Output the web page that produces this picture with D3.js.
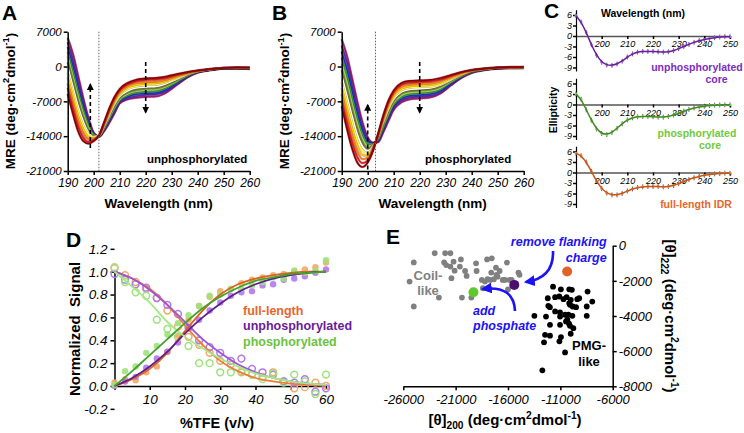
<!DOCTYPE html>
<html><head><meta charset="utf-8">
<script src="https://cdn.jsdelivr.net/npm/d3@7"></script>
<style>body{margin:0;background:#fff}svg{display:block}</style>
</head><body>
<svg id="c" width="744" height="433"></svg>
<script>
// ---------------- DATA ----------------
// Panels A/B: MRE spectra at increasing %TFE (columns = curves, rows = wavelengths)
const wlAB = [190,192,194,196,198,200,202,204,206,208,210,213,216,220,224,228,232,236,240,245,250,255,260];
const mreA = [
 [-5500,-4300,-3400,-2200,-1200,-100,900,2000,3000,3900,4900,5800],
 [-9500,-8400,-7300,-6200,-5200,-4100,-3000,-2000,-900,200,1400,2600],
 [-13000,-12000,-11000,-10000,-9000,-8000,-7000,-6000,-5000,-3900,-2900,-1800],
 [-15000,-14300,-13500,-12700,-11900,-11100,-10300,-9500,-8700,-7900,-7100,-6300],
 [-15500,-15100,-14600,-14200,-13700,-13300,-12800,-12300,-11800,-11300,-10800,-10300],
 [-15000,-14800,-14600,-14500,-14300,-14100,-13900,-13800,-13700,-13600,-13400,-13300],
 [-13900,-13900,-13900,-14000,-14000,-14000,-14000,-14000,-14000,-14100,-14100,-14100],
 [-11200,-11400,-11500,-11700,-11900,-12100,-12200,-12400,-12500,-12700,-12800,-13000],
 [-8400,-8700,-9000,-9200,-9500,-9800,-10000,-10300,-10500,-10800,-11000,-11300],
 [-6100,-6400,-6700,-7000,-7300,-7600,-7900,-8200,-8500,-8800,-9100,-9400],
 [-4500,-4800,-5100,-5400,-5700,-6000,-6300,-6600,-6800,-7000,-7200,-7400],
 [-3300,-3600,-3900,-4200,-4500,-4900,-5200,-5500,-5800,-6100,-6400,-6600],
 [-2700,-3000,-3300,-3700,-4000,-4300,-4700,-5000,-5300,-5600,-6000,-6300],
 [-2400,-2700,-3100,-3400,-3700,-4100,-4400,-4700,-5100,-5400,-5700,-6100],
 [-2300,-2600,-3000,-3300,-3600,-4000,-4300,-4600,-5000,-5300,-5600,-6000],
 [-2000,-2300,-2600,-2900,-3100,-3400,-3700,-4000,-4300,-4600,-4900,-5200],
 [-1500,-1700,-1900,-2100,-2300,-2500,-2700,-2900,-3100,-3300,-3500,-3700],
 [-1100,-1200,-1300,-1400,-1500,-1600,-1700,-1800,-1900,-2000,-2100,-2200],
 [-800,-800,-900,-900,-1000,-1000,-1000,-1000,-1100,-1100,-1200,-1200],
 [-500,-500,-500,-600,-600,-600,-600,-600,-600,-700,-700,-700],
 [-300,-300,-300,-300,-300,-300,-400,-400,-400,-400,-400,-400],
 [-200,-200,-200,-300,-300,-300,-300,-300,-300,-300,-400,-400],
 [-200,-200,-300,-300,-300,-300,-400,-400,-400,-400,-500,-500]
];
const mreB = [
 [-8000,-6800,-5500,-4300,-3100,-1900,-700,500,1800,3000,4200,5500],
 [-12500,-11200,-9900,-8500,-7200,-5900,-4500,-3200,-1800,-500,900,2200],
 [-16500,-15200,-13900,-12600,-11300,-10000,-8800,-7500,-6200,-4900,-3600,-2300],
 [-19300,-18200,-17100,-16000,-14800,-13700,-12600,-11500,-10400,-9300,-8100,-7000],
 [-20200,-19400,-18600,-17800,-16900,-16100,-15300,-14500,-13700,-12800,-12000,-11200],
 [-19300,-18900,-18400,-18000,-17500,-17000,-16500,-16000,-15500,-15100,-14600,-14200],
 [-17000,-16800,-16600,-16400,-16200,-16000,-15900,-15700,-15600,-15500,-15400,-15300],
 [-13500,-13700,-13800,-14000,-14100,-14300,-14400,-14600,-14700,-14900,-15000,-15200],
 [-9800,-10100,-10400,-10700,-11000,-11300,-11600,-11900,-12300,-12600,-12900,-13200],
 [-6800,-7200,-7500,-7900,-8300,-8600,-9000,-9400,-9700,-10100,-10500,-10900],
 [-4800,-5150,-5500,-5900,-6250,-6600,-6900,-7300,-7650,-8000,-8350,-8700],
 [-3300,-3650,-4000,-4400,-4750,-5100,-5400,-5800,-6150,-6500,-6850,-7200],
 [-2900,-3250,-3600,-3950,-4250,-4600,-4900,-5250,-5600,-5900,-6250,-6600],
 [-2800,-3100,-3450,-3800,-4100,-4450,-4750,-5100,-5400,-5750,-6050,-6400],
 [-2700,-3000,-3350,-3700,-4000,-4300,-4600,-4900,-5250,-5550,-5900,-6200],
 [-2300,-2600,-2900,-3200,-3500,-3700,-4000,-4300,-4600,-4900,-5200,-5400],
 [-1700,-1900,-2100,-2300,-2500,-2700,-2800,-3000,-3200,-3400,-3600,-3800],
 [-1100,-1200,-1300,-1500,-1600,-1700,-1800,-1900,-2000,-2100,-2200,-2300],
 [-700,-700,-800,-800,-900,-900,-1000,-1000,-1100,-1100,-1200,-1300],
 [-400,-400,-400,-500,-500,-500,-500,-600,-600,-600,-700,-700],
 [-200,-200,-200,-300,-300,-300,-300,-300,-300,-400,-400,-400],
 [-100,-100,-200,-200,-200,-200,-200,-300,-300,-300,-300,-300],
 [-100,-100,-100,-200,-200,-200,-200,-200,-300,-300,-300,-300]
];
const mreTicks = [7000,0,-7000,-14000,-21000];
const wlTicksAB = [190,200,210,220,230,240,250,260];

// Panel C: ellipticity spectra
const wlC = [190,192,194,196,198,200,202,204,206,208,210,212,214,216,218,220,222,224,226,228,230,232,234,236,238,240,242,244,246,248,250];
const ellUnphos = [5.8,4.0,1.0,-2.5,-5.5,-7.5,-8.3,-8.4,-8.0,-7.2,-6.0,-5.1,-4.6,-4.4,-4.4,-4.4,-4.5,-4.6,-4.5,-4.2,-3.6,-3.0,-2.4,-1.8,-1.3,-1.0,-0.7,-0.5,-0.3,-0.2,-0.2];
const ellPhos = [3.0,1.5,-1.5,-4.5,-7.0,-8.3,-8.6,-8.0,-6.8,-5.5,-4.4,-3.8,-3.5,-3.4,-3.4,-3.5,-3.6,-3.6,-3.4,-3.0,-2.5,-1.9,-1.4,-1.0,-0.7,-0.5,-0.3,-0.2,-0.1,-0.1,-0.1];
const ellFull = [5.5,4.8,3.0,0.3,-2.5,-4.6,-5.9,-6.4,-6.4,-6.0,-5.3,-4.7,-4.3,-4.1,-4.0,-4.0,-4.0,-4.1,-4.0,-3.7,-3.2,-2.6,-2.0,-1.5,-1.1,-0.8,-0.6,-0.4,-0.3,-0.2,-0.2];
const ellErr = 0.7;
const ellTicks = [6,3,0,-3,-6,-9];
const wlTicksC = [200,210,220,230,240,250];

// Panel D: normalized signal vs %TFE
const tfe = [0,3,6,9,12,15,18,21,24,27,30,33,36,39,42,45,48,51,54,57,60];
const helixFull   = [0.03,0.06,0.05,0.12,0.17,0.30,0.44,0.58,0.70,0.78,0.83,0.85,0.90,0.93,0.95,0.97,0.98,1.00,1.02,1.04,1.08];
const helixUnphos = [0.00,0.04,0.08,0.16,0.24,0.30,0.38,0.51,0.58,0.66,0.73,0.79,0.82,0.83,0.88,0.89,0.93,0.94,0.96,0.99,1.02];
const helixPhos   = [0.01,0.13,0.17,0.29,0.35,0.45,0.55,0.62,0.70,0.79,0.80,0.85,0.85,0.88,0.91,0.95,0.94,1.01,0.99,1.01,1.10];
const coilFull    = [1.03,0.97,0.91,0.85,0.77,0.66,0.52,0.43,0.36,0.29,0.22,0.19,0.12,0.10,0.08,0.12,0.04,-0.02,-0.01,0.03,0.00];
const coilUnphos  = [0.98,0.93,0.89,0.86,0.77,0.71,0.63,0.51,0.40,0.34,0.29,0.22,0.24,0.15,0.12,0.10,0.04,0.03,0.06,-0.05,-0.02];
const coilPhos    = [1.04,0.91,0.82,0.79,0.58,0.50,0.43,0.35,0.20,0.20,0.12,0.12,0.13,0.10,0.06,0.11,0.03,0.10,0.04,-0.07,0.10];
const fitX = [0,5,10,15,20,25,30,35,40,45,50,55,60];
const fitHelixFull   = [0,0.06,0.15,0.29,0.48,0.66,0.80,0.89,0.94,0.97,0.99,1.0,1.0];
const fitHelixUnphos = [0,0.07,0.17,0.30,0.46,0.60,0.72,0.82,0.89,0.94,0.97,0.99,1.0];
const fitHelixPhos   = [0,0.13,0.27,0.41,0.55,0.68,0.78,0.86,0.92,0.95,0.98,0.99,1.0];
const fitCoilFull    = [1.0,0.94,0.85,0.71,0.53,0.36,0.22,0.13,0.07,0.04,0.02,0.01,0.0];
const fitCoilUnphos  = [1.0,0.94,0.84,0.71,0.56,0.41,0.29,0.19,0.12,0.07,0.04,0.02,0.01];
const fitCoilPhos    = [1.0,0.87,0.73,0.56,0.43,0.33,0.24,0.17,0.11,0.07,0.04,0.02,0.01];
const signalTicks = [-0.2,0.0,0.2,0.4,0.6,0.8,1.0,1.2];
const tfeTicks = [0,10,20,30,40,50,60];
const legendD = ["full-length","unphosphorylated","phosphorylated"];

// Panel E: [θ]200 vs [θ]222
const coilLike = [[-25000,-950],[-23000,-430],[-22000,-430],[-21500,-430],[-20500,-780],[-25400,-2040],[-25000,-3460],
 [-22600,-2950],[-22100,-950],[-21900,-1100],[-21500,-1190],[-21200,-910],[-21100,-1420],[-21400,-1850],[-20600,-1190],
 [-20100,-1440],[-19950,-1720],[-19500,-2950],[-20400,-2950],[-19050,-1000],[-19000,-1440],[-18000,-780],[-17550,-720],
 [-17150,-1250],[-16800,-1440],[-17600,-1530],[-17100,-1660],[-16100,-960],[-15000,-1530],[-14900,-1660],[-18500,-1950],
 [-18200,-2040],[-17950,-1910],[-17700,-1950],[-17350,-1910],[-17000,-1760],[-16500,-1950],[-16300,-1950],[-15850,-1950],
 [-15650,-1950],[-16000,-2480],[-18400,-2420],[-17900,-2420]];
const pmgLike = [[-11700,-2330],[-10950,-2480],[-10150,-2480],[-9900,-2510],[-8400,-2610],[-12200,-2990],[-11500,-2930],
 [-11100,-2890],[-10700,-3040],[-10400,-2930],[-10000,-3080],[-9380,-3040],[-9200,-2990],[-7950,-3180],[-10150,-3270],
 [-12150,-3420],[-12000,-3500],[-10080,-3360],[-9820,-3460],[-9500,-3500],[-8480,-3460],[-11500,-3740],[-11030,-3800],
 [-10550,-3930],[-10230,-3930],[-9850,-3990],[-10330,-4210],[-13480,-3990],[-12370,-4030],[-11030,-4030],[-10460,-4310],
 [-10170,-4440],[-11990,-4500],[-11030,-4500],[-10080,-4560],[-9760,-4690],[-10010,-5010],[-12460,-5070],[-11990,-5120],
 [-10940,-5200],[-11090,-5440],[-12560,-5500],[-10550,-6070],[-12720,-7090],[-8480,-3990]];
const fullLengthPt = [-10350,-1470];
const unphosPt = [-15400,-2230];
const phosPt = [-19300,-2650];
const theta200Ticks = [-26000,-21000,-16000,-11000,-6000];
const theta222Ticks = [0,-2000,-4000,-6000,-8000];

// ---------------- STYLE ----------------
const FONT = '"Liberation Sans", Arial, Helvetica, sans-serif';
const tfeColors = ["#8b0000","#e31a1c","#f57c1f","#ffc20e","#ffff40","#ffffff","#6b7a2a","#9bd14f","#2e9b3a","#1f2bd6","#5b2a9a","#a3197a"];
const svg = d3.select("#c");
const defs = svg.append("defs");
function mk(id, color, size){
  defs.append("marker").attr("id",id).attr("viewBox","0 0 10 10").attr("refX",8).attr("refY",5)
    .attr("markerWidth",size).attr("markerHeight",size).attr("markerUnits","userSpaceOnUse").attr("orient","auto")
    .append("path").attr("d","M0,0L10,5L0,10z").attr("fill",color);
}
mk("arrK","#000",7); mk("arrB","#1c12f5",11);

function txt(g,x,y,s,o={}){
  const t = g.append("text").attr("x",x).attr("y",y).text(s)
   .attr("font-family",FONT).attr("font-size",o.fs||12).attr("font-weight",o.w||"bold")
   .attr("fill",o.fill||"#000").attr("text-anchor",o.anchor||"start");
  if(o.it) t.attr("font-style","italic");
  return t;
}
function rich(g,x,y,parts,fs,o={}){
  const t = g.append("text").attr("x",x).attr("y",y).attr("font-family",FONT).attr("font-size",fs)
    .attr("font-weight","bold").attr("text-anchor",o.anchor||"middle").attr("fill","#000");
  if(o.tr) t.attr("transform",o.tr);
  let cur=0;
  parts.forEach(p=>{
    const off = p.sup ? -0.38*fs : p.sub ? 0.25*fs : 0;
    const ts = t.append("tspan").attr("dy",off-cur).text(p.t);
    if(p.sup||p.sub) ts.attr("font-size",fs*0.68);
    cur=off;
  });
  return t;
}
function styleAxis(a,fs){
  a.select(".domain").attr("stroke","#000").attr("stroke-width",1.5);
  a.selectAll(".tick line").attr("stroke","#000").attr("stroke-width",1.5);
  a.selectAll(".tick text").attr("font-family",FONT).attr("font-size",fs).attr("font-style","italic").attr("fill","#000");
}
const unitParts = (pre)=>[{t:pre+"(deg·cm"},{t:"2",sup:true},{t:"dmol"},{t:"-1",sup:true},{t:")"}];

// ---------------- PANELS A & B ----------------
function spectra(c){
  const x = d3.scaleLinear().domain([190,260]).range([c.x0,c.x0+182]);
  const y = d3.scaleLinear().domain([-21000,7000]).range([171,31.7]);
  const g = svg.append("g");
  const line = d3.line().x(d=>x(d[0])).y(d=>y(d[1])).curve(d3.curveMonotoneX);
  const curves = tfeColors.map((col,i)=>({col, pts: wlAB.map((w,j)=>[w,c.rows[j][i]])}));
  curves.slice().reverse().forEach(cv=>{
    g.append("path").attr("d",line(cv.pts)).attr("fill","none").attr("stroke","#3a0a20").attr("stroke-opacity",0.3).attr("stroke-width",2.6);
    g.append("path").attr("d",line(cv.pts)).attr("fill","none").attr("stroke",cv.col).attr("stroke-width",1.7);
  });
  g.append("line").attr("x1",x(c.dot)).attr("x2",x(c.dot)).attr("y1",y(7000)).attr("y2",y(-21000))
    .attr("stroke","#666").attr("stroke-width",1).attr("stroke-dasharray","1.5,1.5");
  [[c.upNm,c.upFrom,c.upTo],[220,900,-9200]].forEach(a=>{
    g.append("line").attr("x1",x(a[0])).attr("x2",x(a[0])).attr("y1",y(a[1])).attr("y2",y(a[2]))
     .attr("stroke","#000").attr("stroke-width",1.6).attr("stroke-dasharray","4,3").attr("marker-end","url(#arrK)");
  });
  const ay = g.append("g").attr("transform",`translate(${c.x0},0)`)
    .call(d3.axisLeft(y).tickValues(mreTicks).tickFormat(d=>String(d)).tickSize(4).tickPadding(2).tickSizeOuter(0));
  styleAxis(ay,11.5);
  const ax = g.append("g").attr("transform","translate(0,171)")
    .call(d3.axisBottom(x).tickValues(wlTicksAB).tickFormat(d=>String(d)).tickSize(4).tickPadding(3).tickSizeOuter(0));
  styleAxis(ax,12);
  txt(g,c.lx,162.5,c.label,{fs:11.5});
  txt(g,(c.x0+c.x0+182)/2,208,"Wavelength (nm)",{fs:13.5,anchor:"middle"});
  rich(g,0,0,unitParts("MRE "),13.5,{tr:`translate(${c.tx},101) rotate(-90)`});
  txt(g,c.letX,20,c.letter,{fs:21});
}
spectra({x0:67.7,rows:mreA,dot:202,upNm:198.7,upFrom:-16400,upTo:-3600,label:"unphosphorylated",lx:147,tx:14.5,letter:"A",letX:2});
spectra({x0:341.7,rows:mreB,dot:203,upNm:200,upFrom:-20700,upTo:-7750,label:"phosphorylated",lx:425,tx:289,letter:"B",letX:272});

// ---------------- PANEL C ----------------
const xC = d3.scaleLinear().domain([190,250]).range([576,730]);
const cPanels = [
  {vals:ellUnphos, zero:36,  line:"#6a1f9e", mark:"#b36ee6", lab:"#7b2cbf", t1:["unphosphorylated",697,70.5], t2:["core",716.5,83]},
  {vals:ellPhos,   zero:104.5,line:"#3f8a24", mark:"#8ed95b", lab:"#72c93c", t1:["phosphorylated",697,136.5], t2:["core",710,149]},
  {vals:ellFull,   zero:172.5,line:"#c8561c", mark:"#f08a3c", lab:"#e8662a", t1:["full-length IDR",696,208], t2:null}
];
cPanels.forEach(p=>{
  const y = d3.scaleLinear().domain([-10,7.5]).range([p.zero+35,p.zero-26.25]);
  const g = svg.append("g");
  const pts = wlC.map((w,i)=>[w,p.vals[i]]);
  pts.forEach(d=>{
    g.append("line").attr("x1",xC(d[0])).attr("x2",xC(d[0])).attr("y1",y(d[1]-ellErr)).attr("y2",y(d[1]+ellErr))
     .attr("stroke","#333").attr("stroke-width",0.8);
  });
  const ax = g.append("g").attr("transform",`translate(0,${p.zero})`)
    .call(d3.axisBottom(xC).tickValues(wlTicksC).tickFormat(d=>String(d)).tickSize(3).tickPadding(2).tickSizeOuter(0));
  styleAxis(ax,9);
  ax.select(".domain").attr("stroke","#555");
  const ay = g.append("g").attr("transform","translate(576,0)")
    .call(d3.axisLeft(y).tickValues(ellTicks).tickFormat(d=>String(d)).tickSize(3).tickPadding(1).tickSizeOuter(0));
  styleAxis(ay,9);
  ay.select(".domain").attr("stroke-width",1.2);
  g.selectAll("circle.m").data(pts).join("circle").attr("cx",d=>xC(d[0])).attr("cy",d=>y(d[1])).attr("r",1.4).attr("fill",p.mark);
  g.append("path").attr("d",d3.line().x(d=>xC(d[0])).y(d=>y(d[1])).curve(d3.curveBasis)(pts))
   .attr("fill","none").attr("stroke",p.line).attr("stroke-width",1.5);
  txt(g,p.t1[1],p.t1[2],p.t1[0],{fs:10.5,fill:p.lab,anchor:"middle"});
  if(p.t2) txt(g,p.t2[1],p.t2[2],p.t2[0],{fs:10.5,fill:p.lab,anchor:"middle"});
});
txt(svg,643,17,"Wavelength (nm)",{fs:10.5,anchor:"middle"});
txt(svg,0,0,"Ellipticity",{fs:10.5,anchor:"middle"}).attr("transform","translate(557,110) rotate(-90)");
txt(svg,544,18,"C",{fs:21});

// ---------------- PANEL D ----------------
{
  const x = d3.scaleLinear().domain([0,60]).range([114.5,326]);
  const y = d3.scaleLinear().domain([0,1]).range([386,271.7]);
  const g = svg.append("g");
  const ay = g.append("g").attr("transform","translate(114.5,0)")
    .call(d3.axisLeft(y).tickValues(signalTicks).tickFormat(d=>d.toFixed(1)).tickSize(4).tickPadding(3).tickSizeOuter(0));
  styleAxis(ay,13.5);
  const ax = g.append("g").attr("transform",`translate(0,${y(0)})`)
    .call(d3.axisBottom(x).tickValues(tfeTicks).tickFormat(d=>d===0?"":String(d)).tickSize(4).tickPadding(4).tickSizeOuter(0));
  styleAxis(ax,13.5);
  const series = [
    {h:helixFull,c:coilFull,fh:fitHelixFull,fc:fitCoilFull,lh:"#e0601c",lc:"#ee7a34",pt:"#f2a866",lab:"#e8662a"},
    {h:helixUnphos,c:coilUnphos,fh:fitHelixUnphos,fc:fitCoilUnphos,lh:"#5b1f8f",lc:"#9b55d8",pt:"#b278ee",lab:"#6a1b9a"},
    {h:helixPhos,c:coilPhos,fh:fitHelixPhos,fc:fitCoilPhos,lh:"#44a22c",lc:"#a4e88a",pt:"#9ee27c",lab:"#6cc23e"}
  ];
  series.forEach(s=>{
    tfe.forEach((t,i)=>{
      g.append("circle").attr("cx",x(t)).attr("cy",y(s.h[i])).attr("r",3.2).attr("fill",s.pt).attr("fill-opacity",0.9);
      g.append("circle").attr("cx",x(t)).attr("cy",y(s.c[i])).attr("r",3.4).attr("fill","none").attr("stroke",s.pt).attr("stroke-width",1.5);
    });
  });
  const ln = d3.line().x((d,i)=>x(fitX[i])).y(d=>y(d)).curve(d3.curveMonotoneX);
  series.forEach(s=>{
    g.append("path").attr("d",ln(s.fc)).attr("fill","none").attr("stroke",s.lc).attr("stroke-width",1.8);
    g.append("path").attr("d",ln(s.fh)).attr("fill","none").attr("stroke",s.lh).attr("stroke-width",1.8);
  });
  legendD.forEach((l,i)=>txt(g,243,314.5+i*15.8,l,{fs:12.5,fill:series[i].lab}));
  txt(g,0,0,"Normalized\u00A0 Signal",{fs:15,anchor:"middle"}).attr("transform","translate(80,329) rotate(-90)");
  txt(g,217,428,"%TFE (v/v)",{fs:14.5,anchor:"middle"});
  txt(g,66,247,"D",{fs:21});
}

// ---------------- PANEL E ----------------
{
  const x = d3.scaleLinear().domain([-26000,-6000]).range([403.3,612.7]);
  const y = d3.scaleLinear().domain([-8000,0]).range([386.3,245.7]);
  const g = svg.append("g");
  const ax = g.append("g").attr("transform","translate(0,386.3)")
    .call(d3.axisBottom(x).tickValues(theta200Ticks).tickFormat(d=>String(d)).tickSize(4).tickPadding(4).tickSizeOuter(0));
  styleAxis(ax,13);
  const ay = g.append("g").attr("transform","translate(612.7,0)")
    .call(d3.axisRight(y).tickValues(theta222Ticks).tickFormat(d=>String(d)).tickSize(4).tickPadding(2).tickSizeOuter(0));
  styleAxis(ay,13);
  g.selectAll("circle.coil").data(coilLike).join("circle").attr("cx",d=>x(d[0])).attr("cy",d=>y(d[1])).attr("r",2.9).attr("fill","#808080");
  g.selectAll("circle.pmg").data(pmgLike).join("circle").attr("cx",d=>x(d[0])).attr("cy",d=>y(d[1])).attr("r",2.9).attr("fill","#000");
  [[fullLengthPt,"#e2612a"],[unphosPt,"#4d0d6e"],[phosPt,"#5fc92c"]].forEach(p=>{
    g.append("circle").attr("cx",x(p[0][0])).attr("cy",y(p[0][1])).attr("r",5).attr("fill",p[1]);
  });
  g.append("path").attr("d","M553,251 Q554,278 526,282").attr("fill","none").attr("stroke","#1c12f5").attr("stroke-width",2.6).attr("marker-end","url(#arrB)");
  g.append("path").attr("d","M515,311 Q514,285 483,289").attr("fill","none").attr("stroke","#1c12f5").attr("stroke-width",2.6).attr("marker-end","url(#arrB)");
  const blue = {fs:12.5,fill:"#1c12f5",it:true};
  txt(g,606.7,246,"remove flanking",{...blue,anchor:"end"});
  txt(g,606.7,261.5,"charge",{...blue,anchor:"end"});
  txt(g,473,314.5,"add",blue);
  txt(g,473,330,"phosphate",blue);
  txt(g,428,279.5,"Coil-",{fs:13,fill:"#808080",anchor:"middle"});
  txt(g,428,295,"like",{fs:13,fill:"#808080",anchor:"middle"});
  txt(g,589,349.5,"PMG-",{fs:13,anchor:"middle"});
  txt(g,589,366,"like",{fs:13,anchor:"middle"});
  rich(g,505,425,[{t:"[θ]"},{t:"200",sub:true},...unitParts(" ")],15);
  rich(g,0,0,[{t:"[θ]"},{t:"222",sub:true},...unitParts(" ")],15,{tr:"translate(665,316) rotate(90)"});
  txt(g,386,243.5,"E",{fs:21});
}
</script>
</body></html>
